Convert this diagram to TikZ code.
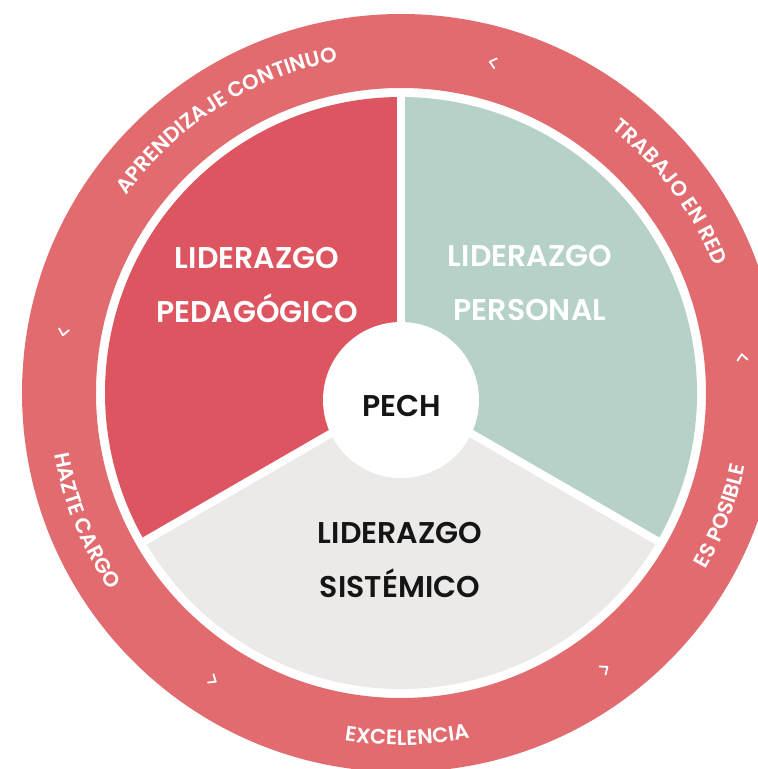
\documentclass[tikz,border=0pt]{standalone}
\usepackage{fontspec}
\setmainfont{Poppins}
\newfontfamily\labelfont{Poppins SemiBold}
\newfontfamily\ringfont{Poppins SemiBold}
\usetikzlibrary{decorations.text}
\definecolor{ringred}{HTML}{E26B70}
\definecolor{pedred}{HTML}{DD5560}
\definecolor{persgreen}{HTML}{B5D1C8}
\definecolor{sistgray}{HTML}{EBEAE8}
\definecolor{inkblack}{HTML}{151515}
\begin{document}
\begin{tikzpicture}[x=1pt, y=1pt,
    lbl/.style={align=center, font=\labelfont\fontsize{30}{54}\selectfont},
    ringtext/.style={decorate, decoration={text along path, text align=center, text color=white,
      text={|\ringfont\fontsize{21}{21}\selectfont|#1}}},
    chevron/.style={white, line width=1.8, line cap=round, line join=round}]
  \useasboundingbox (-401, -376) rectangle (357, 393);
  \clip (-401, -376) rectangle (357, 393);
  \fill[ringred, even odd rule] (0, 0) circle (379) (0, 0) circle (305);
  \fill[pedred] (0, 0) -- (90:296) arc[start angle=90, end angle=210, radius=296] -- cycle;
  \fill[persgreen] (0, 0) -- (-30:296) arc[start angle=-30, end angle=90, radius=296] -- cycle;
  \fill[sistgray] (0, 0) -- (210:296) arc[start angle=210, end angle=330, radius=296] -- cycle;
  \foreach \a in {90, 210, 330}
    \draw[white, line width=8] (0, 0) -- (\a:300);
  \node[circle, fill=white, minimum size=156] (pech) at (0, -7) {};
  \node[text=inkblack, font=\labelfont\fontsize{30}{30}\selectfont] (pechlabel) at (1, -13) {PECH};
  \node[lbl, text=white] (pedagogico) at (-144, 108) {LIDERAZGO\\PEDAGÓGICO};
  \node[lbl, text=white] (personal) at (129, 110) {LIDERAZGO\\PERSONAL};
  \node[lbl, text=inkblack] (sistemico) at (-1, -167) {LIDERAZGO\\SISTÉMICO};
  \path[ringtext={APRENDIZAJE CONTINUO}] (180:338) arc[start angle=180, end angle=65, radius=338];
  \path[ringtext={TRABAJO EN RED}] (81.75:338) arc[start angle=81.75, end angle=-8.25, radius=338];
  \path[ringtext={ES POSIBLE}] (-66:352) arc[start angle=-66, end angle=24, radius=352];
  \path[ringtext={EXCELENCIA}] (-134:352) arc[start angle=-134, end angle=-44, radius=352];
  \path[ringtext={HAZTE CARGO}] (157:352) arc[start angle=157, end angle=247, radius=352];
  \foreach \a in {74.5, 169.8, 6, 236.8, -53.5}
    \draw[chevron, shift={(\a:343)}, rotate=\a+90] (-3, 5) -- (3, 0) -- (-3, -5);
\end{tikzpicture}
\end{document}
